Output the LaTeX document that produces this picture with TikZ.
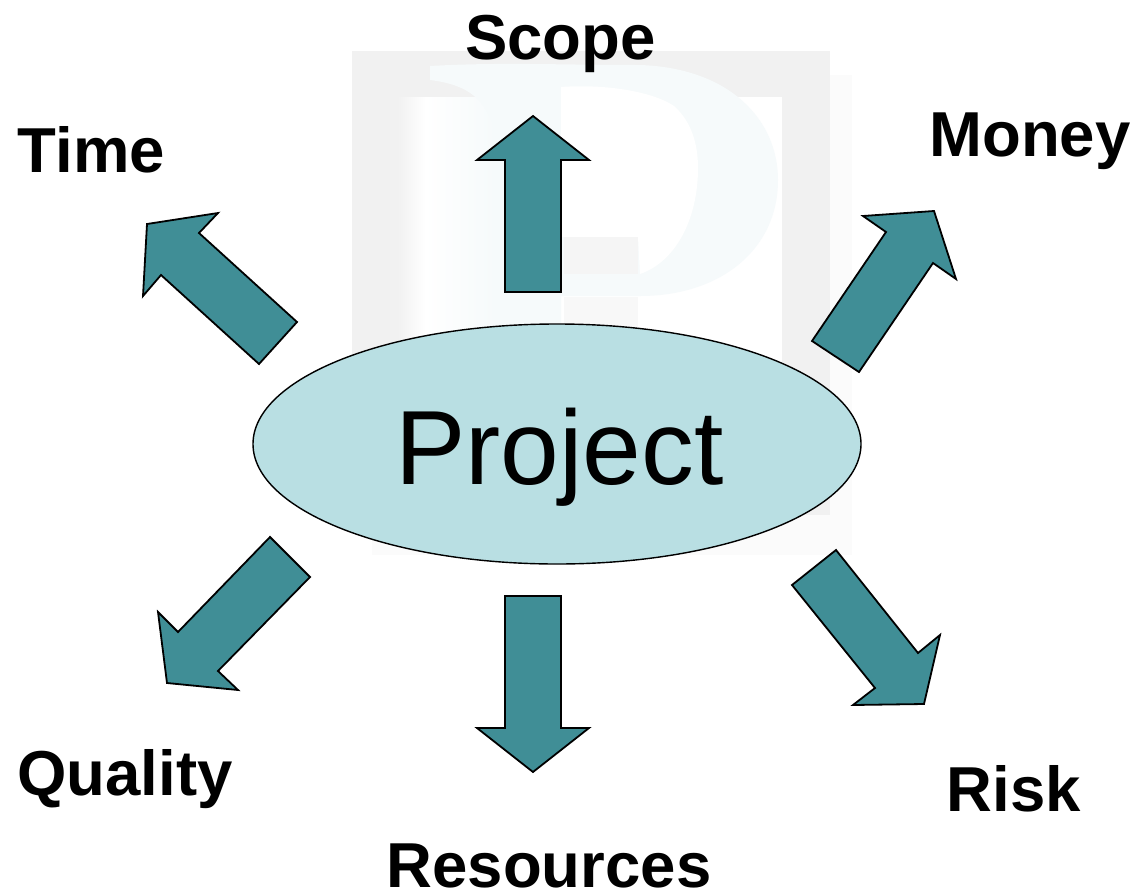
\documentclass[tikz,border=0pt]{standalone}
\usepackage{fontspec}
\setmainfont{Liberation Sans}
\usetikzlibrary{shapes.geometric}
\definecolor{arrowteal}{HTML}{408E96}
\definecolor{ovalfill}{HTML}{B9DFE3}
\definecolor{wmgrey}{HTML}{F1F1F1}
\definecolor{wmblue}{HTML}{F6FAFB}
\definecolor{wmpale}{HTML}{FBFBFB}
\tikzset{
  blockarrow/.style={draw=black,fill=arrowteal,line width=1.8pt,line join=miter},
  lbl/.style={anchor=base,inner sep=0pt,font=\fontsize{63.5}{63.5}\selectfont\bfseries},
  oval/.style={ellipse,draw=black,fill=ovalfill,line width=1.4pt,minimum width=608pt,minimum height=240pt,inner sep=0pt,
    font=\fontsize{105.5}{105.5}\selectfont,text height=90pt,text depth=10pt}
}
\begin{document}
\begin{tikzpicture}[x=1pt,y=-1pt]
\useasboundingbox (0,0) rectangle (1136,895);
% watermark
\fill[wmpale] (372,75) rectangle (852,555);
\fill[wmgrey] (352,51) rectangle (830,515);
\shade[left color=wmgrey,right color=white] (397,97) rectangle (425,515);
\fill[white] (425,97) rectangle (782,515);
\shade[left color=white,right color=wmblue] (425,97) rectangle (495,515);
\fill[wmblue] (430,66) .. controls (500,62) and (560,65) .. (640,65)
  .. controls (730,68) and (778,120) .. (778,180)
  .. controls (778,250) and (720,296) .. (640,296)
  -- (561,296) -- (561,520) -- (495,520) -- (495,130)
  .. controls (485,100) and (470,85) .. (430,80) -- cycle;
\fill[white] (561,87) .. controls (600,84) and (650,90) .. (674,106)
  .. controls (692,122) and (698,145) .. (698,168)
  .. controls (698,220) and (675,262) .. (640,274)
  -- (638,237) -- (561,237) -- cycle;
\fill[wmgrey!70!white] (564,237) rectangle (638,274);
\fill[wmgrey!50!white] (564,297) rectangle (638,330);
% project oval
\node[oval] (project) at (557,444) {\hspace*{5pt}Project};
% arrows
\draw[blockarrow] (533,116) -- (589,160) -- (561,160) -- (561,292) -- (505,292) -- (505,160) -- (477,160) -- cycle;
\draw[blockarrow] (147,224) -- (218,213) -- (199,233) -- (297,322) -- (259,364) -- (161,275) -- (143,296) -- cycle;
\draw[blockarrow] (934,211) -- (956,279) -- (933,263) -- (859,372) -- (812,341) -- (886,232) -- (863,216) -- cycle;
\draw[blockarrow] (167,683) -- (158,612) -- (178,632) -- (270,537) -- (310,577) -- (218,671) -- (238,690) -- cycle;
\draw[blockarrow] (533,772) -- (477,728) -- (505,728) -- (505,596) -- (561,596) -- (561,728) -- (589,728) -- cycle;
\draw[blockarrow] (924,704) -- (853,705) -- (875,688) -- (792,585) -- (836,550) -- (918,653) -- (940,635) -- cycle;
% labels
\node[lbl] (scope) at (560.5,59) {Scope};
\node[lbl] (time) at (91.5,172) {Time};
\node[lbl] (money) at (1030,156) {Money};
\node[lbl] (quality) at (125,795) {Quality};
\node[lbl] (resources) at (549,887) {Resources};
\node[lbl] (risk) at (1014,811) {Risk};
\end{tikzpicture}
\end{document}
